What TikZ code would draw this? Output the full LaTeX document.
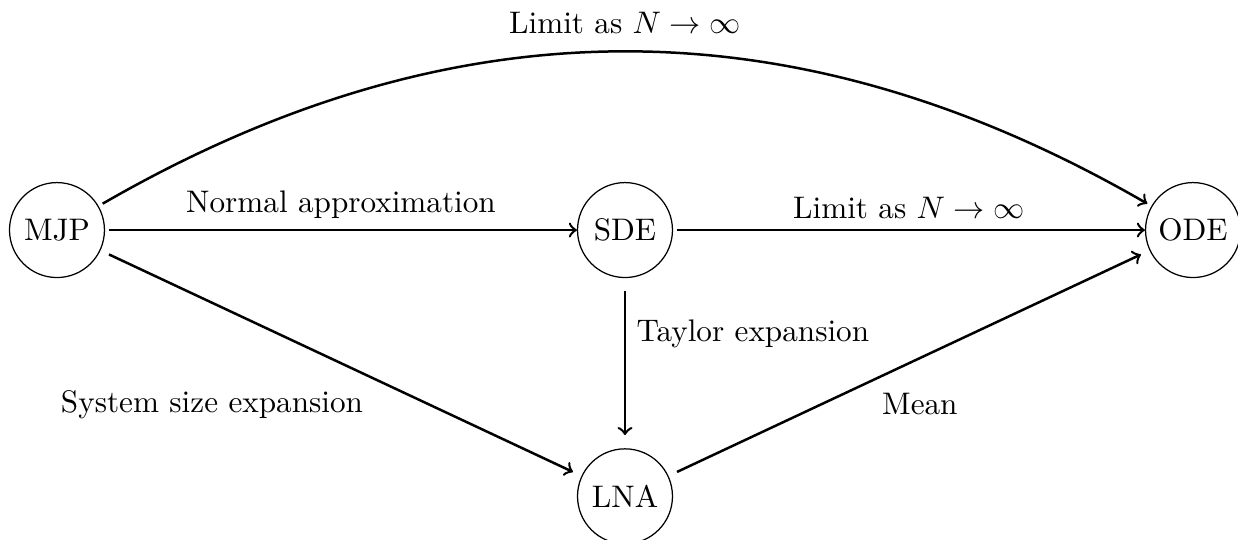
\documentclass[tikz,border=0pt]{standalone}
\begin{document}
\begin{tikzpicture}[
  state/.style={draw, circle, thin, minimum size=1.07cm, inner sep=0pt},
  link/.style={->, thick},
]
\useasboundingbox (-0.642,-3.482) rectangle (13.307,2.592);
% the four models
\node[state] (MJP) at (0,0) {MJP};
\node[state] (SDE) at (6.4,0) {SDE};
\node[state] (ODE) at (12.8,0) {ODE};
\node[state] (LNA) at (6.4,-3) {LNA};
% approximations between them
\draw[link, shorten <=1.2pt] (MJP) -- node[above] {Normal approximation} (SDE);
\draw[link, shorten <=1.2pt] (SDE) -- node[above] {Limit as $N\to\infty$} (ODE);
\draw[link, shorten <=4.2pt, shorten >=4.2pt] (SDE) -- node[pos=0.33, right] {Taylor expansion} (LNA);
\draw[link, shorten <=3pt, shorten >=3pt] (MJP) -- node[pos=0.57, below left] {System size expansion} (LNA);
\draw[link, shorten <=3pt, shorten >=3pt] (LNA) -- node[pos=0.42, below right] {Mean} (ODE);
\draw[link, shorten <=1.5pt, shorten >=1.5pt] (MJP) to[bend left=30] node[above, yshift=2pt] {Limit as $N\to\infty$} (ODE);
\end{tikzpicture}
\end{document}
